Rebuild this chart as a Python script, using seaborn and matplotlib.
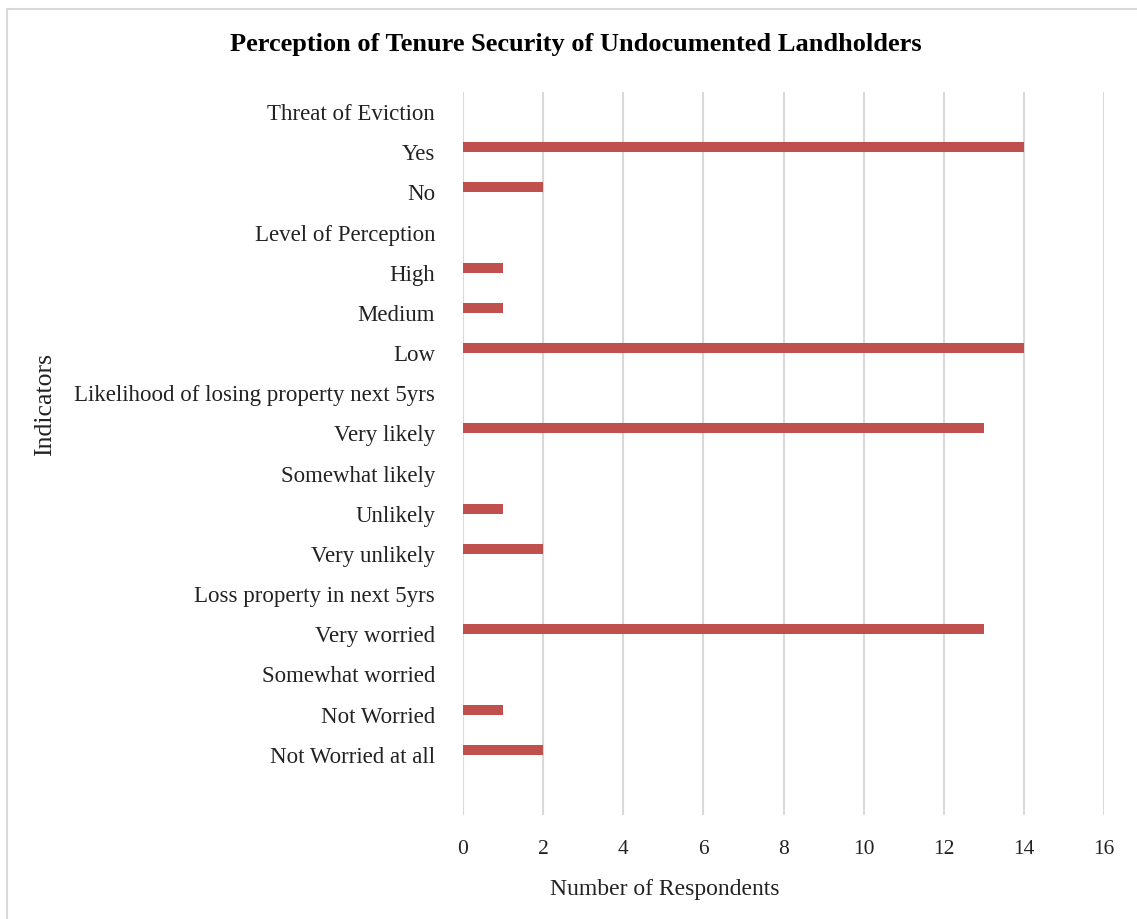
import matplotlib
matplotlib.use("Agg")
import matplotlib.pyplot as plt
import seaborn as sns
import pandas as pd
from matplotlib.patches import Rectangle
from matplotlib.transforms import ScaledTranslation

categories = [
    "Threat of Eviction", "Yes", "No",
    "Level of Perception", "High", "Medium", "Low",
    "Likelihood of losing property next 5yrs", "Very likely", "Somewhat likely",
    "Unlikely", "Very unlikely",
    "Loss property in next 5yrs", "Very worried", "Somewhat worried",
    "Not Worried", "Not Worried at all",
]
values = [0, 14, 2, 0, 1, 1, 14, 0, 13, 0, 1, 2, 0, 13, 0, 1, 2]
xticks = [0, 2, 4, 6, 8, 10, 12, 14, 16]

df = pd.DataFrame({"Indicator": categories, "Count": values})

sns.set_theme(style="white")
plt.rcParams["font.family"] = ["Liberation Serif", "DejaVu Serif"]

W, H = 1137, 919
fig = plt.figure(figsize=(W / 100, H / 100), dpi=100)
ax = fig.add_axes([463 / W, 1 - 815 / H, (1104 - 463) / W, (815 - 92) / H])

sns.barplot(data=df, x="Count", y="Indicator", order=categories, color="#C0504D",
            width=0.25, ax=ax, saturation=1, linewidth=0)

# Excel draws the bars a few pixels above the category centre
shift = ax.transData + ScaledTranslation(0, 5 / 100, fig.dpi_scale_trans)
for p in ax.patches:
    p.set_transform(shift)

ax.set_xlim(0, 16)
ax.set_ylim(len(categories) + 0.5, -0.5)
ax.set_xticks(xticks)
ax.set_xticklabels([str(t) for t in xticks])
ax.grid(axis="x", color="#D9D9D9", linewidth=1.5)
ax.set_axisbelow(True)
for s in ax.spines.values():
    s.set_visible(False)
ax.tick_params(axis="y", length=0, pad=20, labelsize=16.5, labelcolor="#222222")
ax.tick_params(axis="x", length=0, pad=18, labelsize=15.5, labelcolor="#222222")
ax.set_xlabel("")
ax.set_ylabel("")

fig.text(576 / W, 1 - 45 / H, "Perception of Tenure Security of Undocumented Landholders",
         ha="center", va="center", fontsize=19, fontweight="bold", color="black")
fig.text(665 / W, 1 - 890 / H, "Number of Respondents", ha="center", va="center",
         fontsize=17, color="#222222")
fig.text(45 / W, 1 - 404 / H, "Indicators", ha="center", va="center", rotation=90,
         fontsize=18.5, color="#222222")

fig.patches.append(Rectangle((7 / W, -0.01), 1.1, 1 - 9 / H + 0.01, transform=fig.transFigure,
                             fill=False, edgecolor="#D9D9D9", linewidth=1.5))

fig.savefig("out.png", dpi=100)
